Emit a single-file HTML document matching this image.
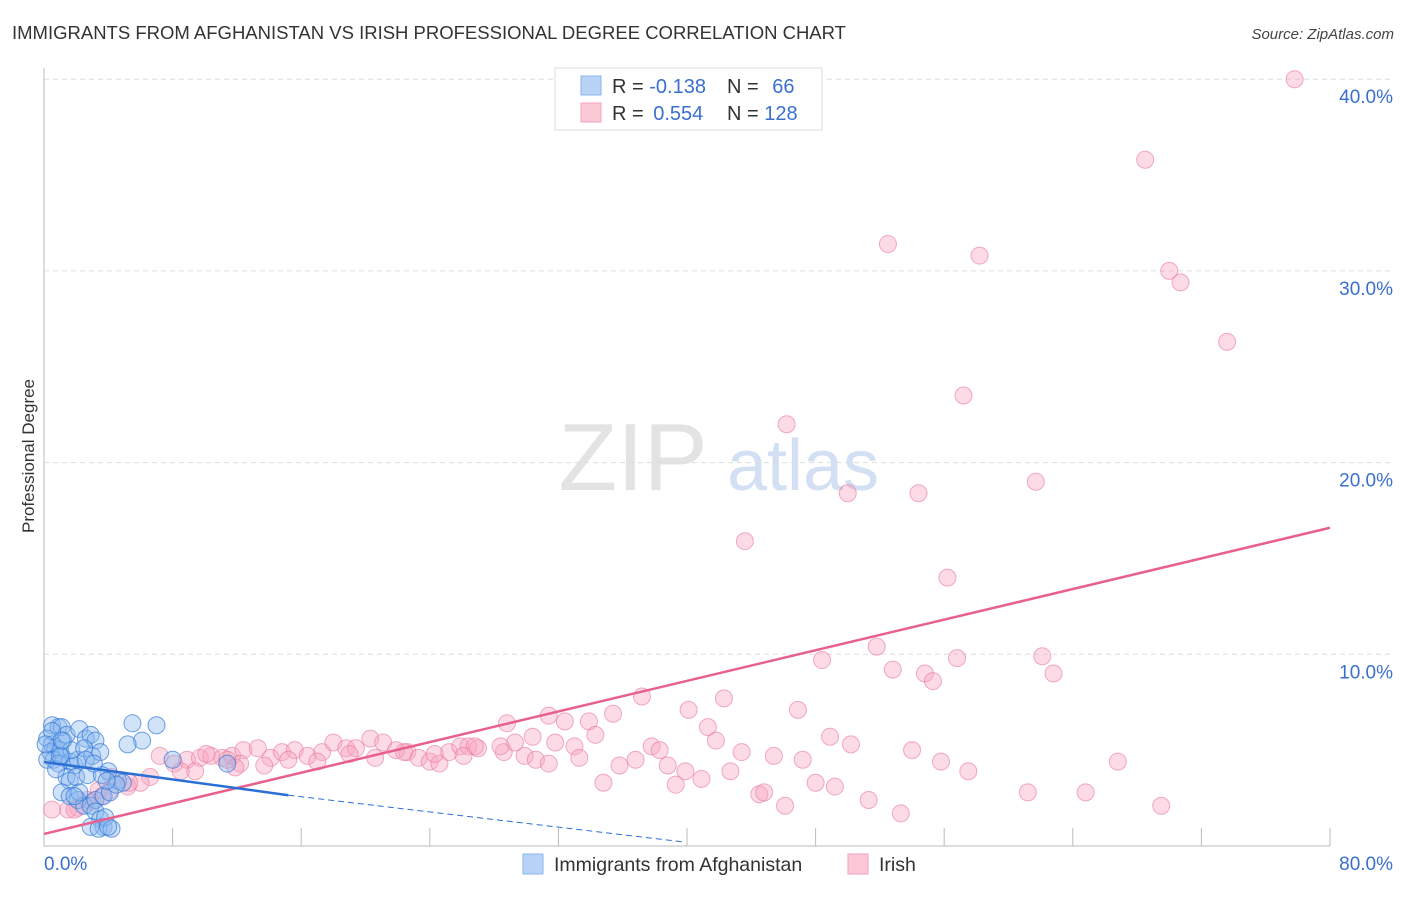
<!DOCTYPE html>
<html><head><meta charset="utf-8"><style>
body{margin:0;background:#fff;font-family:"Liberation Sans",sans-serif;}
svg text{font-family:"Liberation Sans",sans-serif;}
</style></head><body>
<svg id="chart" width="1406" height="892" xmlns="http://www.w3.org/2000/svg">
<text x="12" y="39" font-size="18.5" fill="#333">IMMIGRANTS FROM AFGHANISTAN VS IRISH PROFESSIONAL DEGREE CORRELATION CHART</text>
<text x="1394" y="39" font-size="15" fill="#444" font-style="italic" text-anchor="end">Source: ZipAtlas.com</text>
<text x="34" y="456" font-size="17" fill="#333" text-anchor="middle" transform="rotate(-90 34 456)">Professional Degree</text>
<g><text x="633" y="490" font-size="96" fill="#ddd" font-family="Liberation Serif" text-anchor="middle" opacity="0.8">ZIP</text><text x="803" y="490" font-size="72" fill="#c9d8ef" text-anchor="middle" opacity="0.8">atlas</text></g>
<g id="grid"></g><g id="axes"></g><g id="pink"></g><g id="blue"></g><g id="lines"></g>
<g>
<rect x="555" y="68" width="267" height="62" fill="#fff" stroke="#ddd"/>
<rect x="581" y="76" width="20" height="19" fill="#b8d3f5" stroke="#8ab4ea"/>
<rect x="581" y="103" width="20" height="19" fill="#fcc8d6" stroke="#f2a3bb"/>
<text x="612" y="93" font-size="20" fill="#333">R = <tspan fill="#3a6fd0">-0.138</tspan></text>
<text x="727" y="93" font-size="20" fill="#333">N = <tspan fill="#3a6fd0" dx="8">66</tspan></text>
<text x="612" y="120" font-size="20" fill="#333">R = <tspan fill="#3a6fd0" dx="4">0.554</tspan></text>
<text x="727" y="120" font-size="20" fill="#333">N = <tspan fill="#3a6fd0">128</tspan></text>
</g>
<g>
<rect x="523" y="854" width="20" height="20" fill="#b8d3f5" stroke="#8ab4ea"/>
<text x="554" y="871" font-size="19.5" fill="#333">Immigrants from Afghanistan</text>
<rect x="848" y="854" width="20" height="20" fill="#fcc8d6" stroke="#f2a3bb"/>
<text x="879" y="871" font-size="19.5" fill="#333">Irish</text>
</g>
</svg>
<script>
const yTicks=[10,20,30,40];
const yTickLabels=["10.0%","20.0%","30.0%","40.0%"];
const xTicks=[0,8,16,24,32,40,48,56,64,72,80];
const xEndLabels=["0.0%","80.0%"];
const pinkX=[77.8,68.5,52.5,58.2,70.0,70.7,73.6,57.2,46.2,50.0,54.4,61.7,43.6,56.2,51.8,48.4,52.8,56.8,54.8,55.3,62.1,62.8,37.2,42.3,40.1,46.9,31.4,35.4,28.8,32.4,33.9,41.3,34.3,30.4,41.8,48.9,50.2,31.8,33.0,37.8,38.3,43.4,45.4,47.2,54.0,55.8,66.8,33.3,36.8,35.8,38.8,39.9,42.7,57.5,34.8,39.3,40.9,48.0,49.2,44.5,44.8,46.1,51.3,53.3,61.2,64.8,69.5,
7.2,8.1,8.9,9.7,10.4,11.1,11.7,12.4,13.3,14.1,14.8,15.6,16.4,17.3,18.0,18.8,19.4,20.3,21.1,21.9,22.6,23.3,24.0,24.6,25.2,25.9,26.4,27.0,28.6,29.3,29.9,30.6,31.4,26.8,28.4,12.2,13.7,11.9,9.4,8.5,6.6,6.0,5.2,4.1,3.6,3.0,2.1,1.5,0.5,4.2,5.3,3.4,2.7,1.9,10.1,11.4,15.2,17.0,19.0,20.6,22.4,24.3,26.1];
const pinkY=[40.0,35.8,31.4,30.8,30.0,29.4,26.3,23.5,22.0,18.4,18.4,19.0,15.9,14.0,10.4,9.7,9.2,9.8,9.0,8.6,9.9,9.0,7.8,7.7,7.1,7.1,6.8,6.9,6.4,6.5,6.5,6.2,5.8,5.7,5.5,5.7,5.3,5.4,5.2,5.2,5.0,4.9,4.7,4.5,5.0,4.4,4.4,4.6,4.5,4.2,4.2,3.9,3.9,3.9,3.3,3.2,3.5,3.3,3.1,2.7,2.8,2.1,2.4,1.7,2.8,2.8,2.1,
4.7,4.3,4.5,4.6,4.7,4.6,4.7,5.0,5.1,4.6,4.9,5.0,4.7,4.9,5.4,5.1,5.1,5.6,5.4,5.0,4.9,4.6,4.4,4.3,4.9,5.2,5.2,5.1,4.9,5.4,4.7,4.5,4.3,5.2,5.2,4.3,4.2,4.1,3.9,3.9,3.6,3.3,3.1,2.9,2.6,2.3,2.0,1.9,1.9,3.6,3.3,2.9,2.4,1.9,4.8,4.5,4.5,4.4,4.8,4.6,4.9,4.8,4.7];
const blueX=[0.5,0.9,1.1,0.2,0.5,0.7,1.0,0.4,0.6,1.1,1.6,1.9,2.1,1.2,1.4,2.2,2.6,2.9,3.2,1.7,2.5,3.0,3.5,0.2,0.9,1.4,1.6,2.0,2.7,1.1,1.6,2.1,2.5,2.9,3.2,3.7,4.1,4.6,4.9,5.5,7.0,6.1,5.2,4.0,3.6,3.2,3.5,3.7,2.9,3.4,3.8,4.2,3.99,2.2,1.9,0.75,8.0,11.4,1.0,2.6,3.1,4.5,3.9,0.5,1.1,0.1];
const blueY=[6.3,6.2,6.2,5.6,5.3,5.1,5.0,4.9,4.5,4.7,4.4,4.2,4.5,5.5,5.8,6.1,5.6,5.8,5.5,5.0,5.1,4.7,4.9,4.5,4.3,3.6,3.4,3.6,3.7,2.8,2.6,2.4,2.1,2.1,2.4,2.6,2.8,3.4,3.3,6.4,6.3,5.5,5.3,3.9,3.7,1.8,1.4,1.0,1.0,0.9,1.5,0.9,1.0,2.8,2.6,4.0,4.5,4.3,4.7,4.5,4.3,3.2,3.4,6.0,5.5,5.3];
const pinkLine=[0,0.63,80,16.6];
const blueLine=[0,4.38,15.2,2.65,39.9,0.2];
const X=v=>44+v*16.075, Y=v=>846-v*19.17;
const NS="http://www.w3.org/2000/svg";
function mk(p,t,a){const e=document.createElementNS(NS,t);for(const k in a)e.setAttribute(k,a[k]);document.getElementById(p).appendChild(e);return e;}
yTicks.forEach((t,i)=>{
 const l=mk('grid','line',{x1:44,x2:1393,y1:Y(t),y2:Y(t),stroke:'#ddd','stroke-dasharray':'5,4'});
 
 
 const tx=mk('grid','text',{x:1393,y:Y(t)+24,'font-size':19,fill:'#3a6fd0','text-anchor':'end'});tx.textContent=yTickLabels[i];
 
 
});
const ax=mk('axes','path',{d:`M44 68V846H1330`,stroke:'#bbb',fill:'none'});


xTicks.forEach(t=>{if(t>0){const k=mk('axes','line',{x1:X(t),x2:X(t),y1:828,y2:846,stroke:'#bbb'});
 
 }});
[[0,'start'],[80,'end']].forEach((d,i)=>{const tx=mk('axes','text',{x:i?1393:44,y:870,'font-size':19,fill:'#3a6fd0','text-anchor':d[1]});tx.textContent=xEndLabels[i];
 
 });
pinkX.forEach((x,i)=>{const c=mk('pink','circle',{cx:X(x),cy:Y(pinkY[i]),r:8.5,fill:'rgba(248,165,192,0.4)',stroke:'rgba(232,120,155,0.6)','stroke-width':1});
 
 });
blueX.forEach((x,i)=>{const c=mk('blue','circle',{cx:X(x),cy:Y(blueY[i]),r:8.5,fill:'rgba(140,185,240,0.4)',stroke:'rgba(50,120,215,0.7)','stroke-width':1});
 
 });
const pl=mk('lines','line',{x1:X(pinkLine[0]),y1:Y(pinkLine[1]),x2:X(pinkLine[2]),y2:Y(pinkLine[3]),stroke:'#e8608c','stroke-width':2.5});


const bl=mk('lines','line',{x1:X(blueLine[0]),y1:Y(blueLine[1]),x2:X(blueLine[2]),y2:Y(blueLine[3]),stroke:'#2a6fd6','stroke-width':2.5});


const bd=mk('lines','line',{x1:X(blueLine[2]),y1:Y(blueLine[3]),x2:X(blueLine[4]),y2:Y(blueLine[5]),stroke:'#2a6fd6','stroke-width':1,'stroke-dasharray':'6,4'});


</script>
</body></html>
